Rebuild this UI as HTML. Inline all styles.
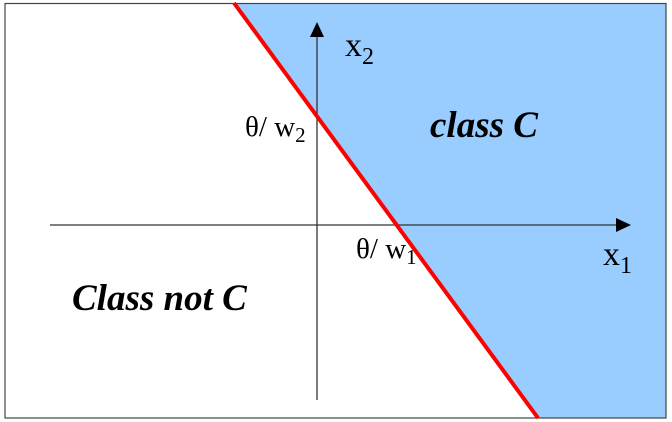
<!DOCTYPE html>
<html><head><style>body{margin:0;background:#fff}svg{display:block}</style></head><body>
<svg width="672" height="422" xmlns="http://www.w3.org/2000/svg" font-family="Liberation Serif, serif">
<rect x="0" y="0" width="672" height="422" fill="#fff"/>
<polygon points="234,4 666,4 666,418 538,418" fill="#99ccff"/>
<rect x="5" y="3.5" width="661" height="414.5" fill="none" stroke="#444" stroke-width="1.2"/>
<line x1="50" y1="225" x2="616" y2="225" stroke="#333" stroke-width="1.3"/>
<polygon points="616,218 631,225 616,232" fill="#000"/>
<line x1="317" y1="400" x2="317" y2="37" stroke="#333" stroke-width="1.3"/>
<polygon points="310,37 317,22 324,37" fill="#000"/>
<line x1="234" y1="3" x2="538" y2="418" stroke="#f00" stroke-width="4"/>
<text x="345" y="56" font-size="34">x<tspan font-size="24" dy="8">2</tspan></text>
<text x="245" y="136" font-size="29">θ/ w<tspan font-size="21" dy="6">2</tspan></text>
<text x="356" y="258" font-size="29">θ/ w<tspan font-size="21" dy="6">1</tspan></text>
<text x="603" y="265" font-size="34">x<tspan font-size="24" dy="8">1</tspan></text>
<text x="430" y="137" font-size="37" font-weight="bold" font-style="italic">class C</text>
<text x="72" y="310" font-size="37" font-weight="bold" font-style="italic">Class not C</text>
</svg>
</body></html>
